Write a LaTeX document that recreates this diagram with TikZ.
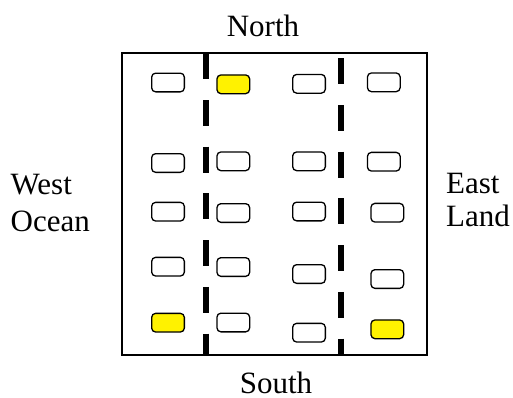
\documentclass[tikz,border=0pt]{standalone}
\usepackage{fontspec}
\setmainfont{Liberation Serif}
\begin{document}
\begin{tikzpicture}[x=1pt,y=-1pt,
  cell/.style={draw=black,line width=1.3pt,rounded corners=4pt,minimum width=32.7pt,minimum height=18.7pt,inner sep=0pt,fill=white},
  hot/.style={cell,fill=yellow},
  lane/.style={line width=6pt,dash pattern=on 26pt off 20.7pt},
  lbl/.style={font=\fontsize{31}{37}\selectfont,inner sep=0pt}]
\useasboundingbox (0,0) rectangle (513,397);
\node[draw=black,line width=2pt,minimum width=304.7pt,minimum height=302pt,inner sep=0pt,anchor=north west] (frame) at (121,52) {};
% lanes
\coordinate (l1a) at (205.7,53.3);
\coordinate (l1b) at (205.7,354);
\coordinate (l2a) at (340.5,58.3);
\coordinate (l2b) at (340.5,354);
\draw[lane] (l1a) -- (l1b);
\draw[lane] (l2a) -- (l2b);
% column 1
\node[cell] (a1) at (168,82.5) {};
\node[cell] (a2) at (168,163) {};
\node[cell] (a3) at (168,211.7) {};
\node[cell] (a4) at (168,266.7) {};
\node[hot]  (a5) at (168,322.7) {};
% column 2
\node[hot]  (b1) at (233.3,84.3) {};
\node[cell] (b2) at (233.3,161.3) {};
\node[cell] (b3) at (233.3,213) {};
\node[cell] (b4) at (233.3,267) {};
\node[cell] (b5) at (233.3,322.5) {};
% column 3
\node[cell] (c1) at (309,83.8) {};
\node[cell] (c2) at (309,161.3) {};
\node[cell] (c3) at (309,211.5) {};
\node[cell] (c4) at (309,274) {};
\node[cell] (c5) at (309,332.7) {};
% column 4
\node[cell] (d1) at (383.8,82.3) {};
\node[cell] (d2) at (383.8,161.7) {};
\node[cell] (d3) at (387.3,212.7) {};
\node[cell] (d4) at (387.3,279) {};
\node[hot]  (d5) at (387.3,329.3) {};
% labels
\node[lbl,anchor=base] (north) at (263,36) {North};
\node[lbl,anchor=base] (south) at (276,393.3) {South};
\node[lbl,anchor=base west] (west) at (10.5,194.3) {West};
\node[lbl,anchor=base west] (ocean) at (10.5,231.7) {Ocean};
\node[lbl,anchor=base west] (east) at (446,193.3) {East};
\node[lbl,anchor=base west] (land) at (446,226.5) {Land};
\end{tikzpicture}
\end{document}
